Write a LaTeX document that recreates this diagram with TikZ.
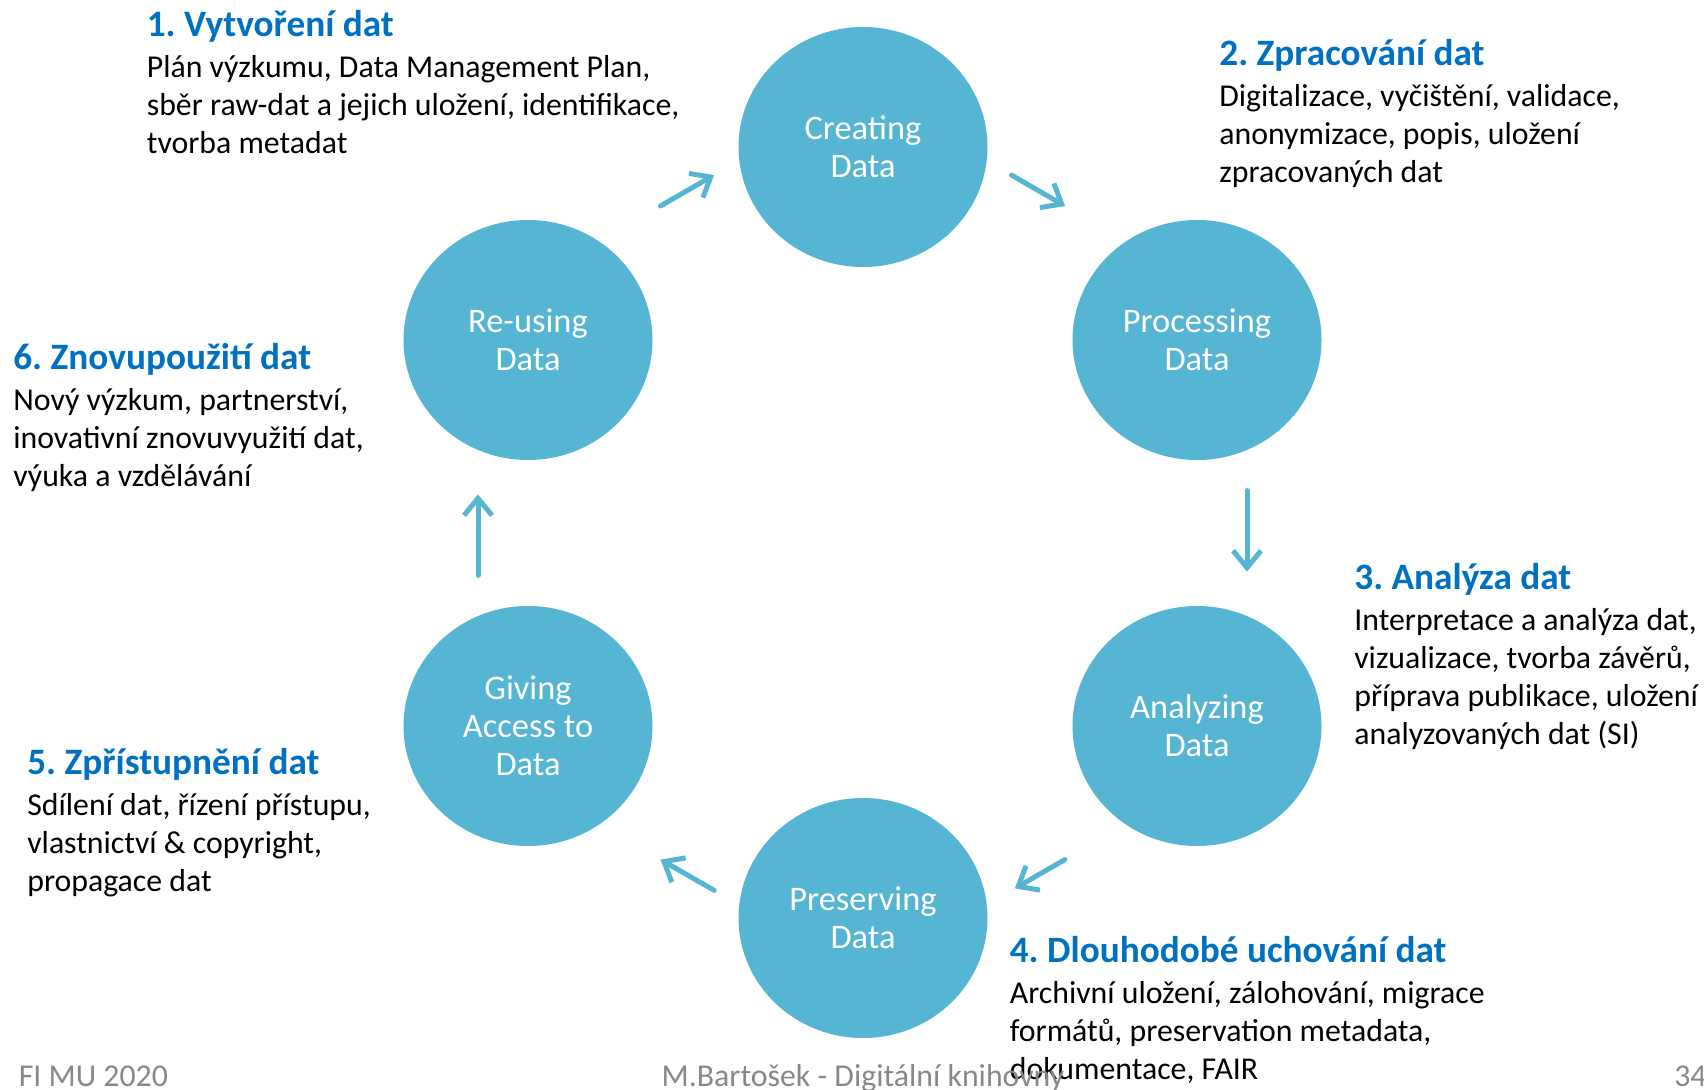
\documentclass[tikz,border=0pt]{standalone}
\usepackage{fontspec}
\setmainfont{Carlito}
\usetikzlibrary{positioning,calc,shapes.geometric,arrows.meta}
\definecolor{cycleblue}{HTML}{55B5D3}
\definecolor{titleblue}{HTML}{0070C0}
\definecolor{footgrey}{HTML}{888888}
\frenchspacing

\begin{document}
\begin{tikzpicture}[
  stage/.style = {ellipse, fill=cycleblue, minimum width=4.98cm, minimum height=4.8cm,
                  inner sep=0pt, text=white, align=center, font=\fontsize{19.6}{21.6}\selectfont},
  head/.style  = {anchor=base west, inner sep=0pt, text=titleblue,
                  font=\fontsize{21.2}{25}\selectfont\bfseries},
  desc/.style  = {inner sep=0pt, text width=11cm, align=flush left, font=\fontsize{18.1}{21.6}\selectfont},
  foot/.style  = {anchor=base west, inner sep=0pt, text=footgrey, font=\fontsize{18.1}{21.6}\selectfont},
  flow/.style  = {draw=cycleblue, line width=0.1cm, line cap=round, line join=round,
                  -{Straight Barb[length=3.4mm, width=5.6mm]}}
]
\useasboundingbox (0,0) rectangle (34.08,-21.8);

\node[stage] (cre) at (17.26,-2.94)  {Creating\\Data};
\node[stage] (pro) at (23.94,-6.8)   {Processing\\Data};
\node[stage] (ana) at (23.94,-14.52) {Analyzing\\Data};
\node[stage] (pre) at (17.26,-18.36) {Preserving\\Data};
\node[stage] (giv) at (10.56,-14.52) {Giving\\Access to\\Data};
\node[stage] (reu) at (10.56,-6.8)   {Re-using\\Data};

\draw[flow] ($(cre)!0.37!(pro)!1cm!90:(pro)$) -- ($(cre)!0.53!(pro)!1cm!90:(pro)$);
\draw[flow] ($(pro)!0.39!(ana)!1cm!90:(ana)$) -- ($(pro)!0.60!(ana)!1cm!90:(ana)$);
\draw[flow] ($(ana)!0.47!(pre)!1cm!90:(pre)$) -- ($(ana)!0.62!(pre)!1cm!90:(pre)$);
\draw[flow] ($(pre)!0.37!(giv)!1cm!90:(giv)$) -- ($(pre)!0.53!(giv)!1cm!90:(giv)$);
\draw[flow] ($(giv)!0.39!(reu)!1cm!90:(reu)$) -- ($(giv)!0.60!(reu)!1cm!90:(reu)$);
\draw[flow] ($(reu)!0.47!(cre)!1cm!90:(cre)$) -- ($(reu)!0.63!(cre)!1cm!90:(cre)$);

\node[head] (h1) at (2.93,-0.73) {1. Vytvoření dat};
\node[desc, below=0.82cm of h1.base west, anchor=base west] (t1)
  {Plán výzkumu, Data Management Plan,\\sběr raw-dat a jejich uložení, identifikace,\\tvorba metadat};

\node[head] (h2) at (24.38,-1.32) {2. Zpracování dat};
\node[desc, below=0.82cm of h2.base west, anchor=base west] (t2)
  {Digitalizace, vyčištění, validace,\\anonymizace, popis, uložení\\zpracovaných dat};

\node[head] (h3) at (27.08,-11.79) {3. Analýza dat};
\node[desc, below=0.82cm of h3.base west, anchor=base west] (t3)
  {Interpretace a analýza dat,\\vizualizace, tvorba závěrů,\\příprava publikace, uložení\\analyzovaných dat (SI)};

\node[head] (h4) at (20.19,-19.25) {4. Dlouhodobé uchování dat};
\node[desc, below=0.82cm of h4.base west, anchor=base west] (t4)
  {Archivní uložení, zálohování, migrace\\formátů, preservation metadata,\\dokumentace, FAIR};

\node[head] (h5) at (0.54,-15.49) {5. Zpřístupnění dat};
\node[desc, below=0.82cm of h5.base west, anchor=base west] (t5)
  {Sdílení dat, řízení přístupu,\\vlastnictví \& copyright,\\propagace dat};

\node[head] (h6) at (0.26,-7.40) {6. Znovupoužití dat};
\node[desc, below=0.82cm of h6.base west, anchor=base west] (t6)
  {Nový výzkum, partnerství,\\inovativní znovuvyužití dat,\\výuka a vzdělávání};

\node[foot] (fi) at (0.37,-21.73) {FI MU 2020};
\node[foot, anchor=base] (au) at (17.26,-21.73) {M.Bartošek - Digitální knihovny};
\node[foot] (pg) at (33.48,-21.73) {34};
\end{tikzpicture}
\end{document}
